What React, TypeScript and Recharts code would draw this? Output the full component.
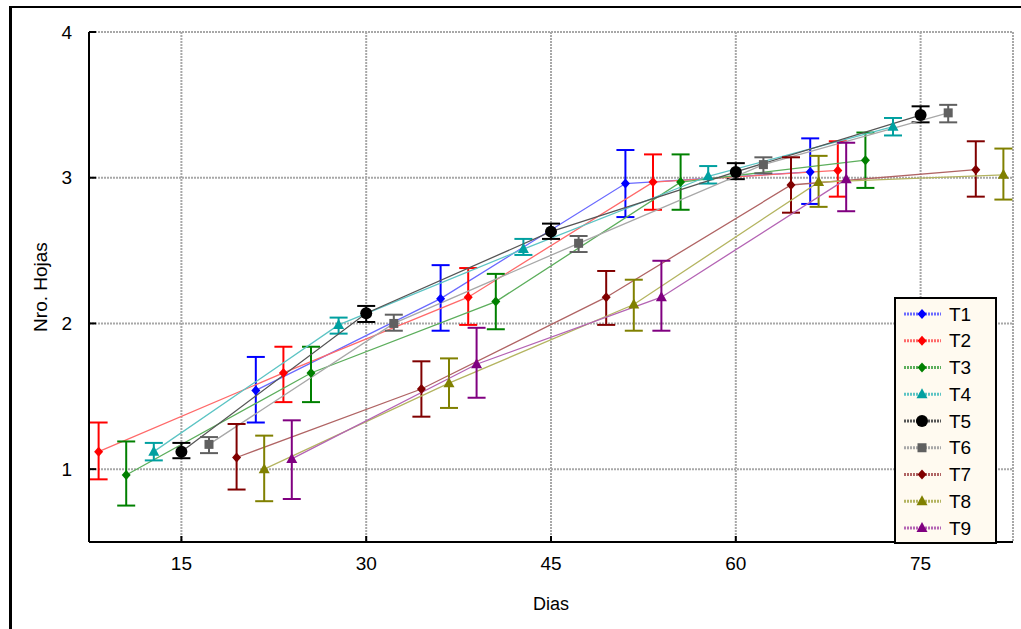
import React from 'react';
import { LineChart, Line, XAxis, YAxis, CartesianGrid, ErrorBar, Label } from 'recharts';

// sampling days and the per-treatment horizontal dodge (in days)
const days = [15, 30, 45, 60, 75];
const dodge = 2.24;

const xTicks = [15, 30, 45, 60, 75];
const yTicks = [1, 2, 3, 4];
const rightTicks = [1, 2, 3, 4, 5, 6, 7];

// mean number of leaves and error bar limits, per treatment (null = not shown)
const t1Mean = [null, 1.54, 2.17, 2.96, 3.04];
const t1Low = [null, 1.32, 1.95, 2.73, 2.82];
const t1High = [null, 1.77, 2.4, 3.19, 3.27];

const t2Mean = [1.12, 1.66, 2.18, 2.97, 3.05];
const t2Low = [0.93, 1.46, 1.99, 2.78, 2.87];
const t2High = [1.32, 1.84, 2.38, 3.16, 3.25];

const t3Mean = [0.96, 1.66, 2.15, 2.97, 3.12];
const t3Low = [0.75, 1.46, 1.96, 2.78, 2.93];
const t3High = [1.19, 1.84, 2.34, 3.16, 3.31];

const t4Mean = [1.12, 1.99, 2.51, 3.01, 3.35];
const t4Low = [1.06, 1.93, 2.47, 2.96, 3.29];
const t4High = [1.18, 2.04, 2.58, 3.08, 3.41];

const t5Mean = [1.12, 2.07, 2.63, 3.04, 3.43];
const t5Low = [1.075, 2.01, 2.58, 2.99, 3.38];
const t5High = [1.18, 2.12, 2.685, 3.1, 3.49];

const t6Mean = [1.17, 2.0, 2.55, 3.09, 3.445];
const t6Low = [1.11, 1.95, 2.49, 3.03, 3.38];
const t6High = [1.22, 2.06, 2.6, 3.14, 3.5];

const t7Mean = [1.08, 1.55, 2.18, 2.95, 3.055];
const t7Low = [0.86, 1.36, 1.99, 2.76, 2.87];
const t7High = [1.31, 1.74, 2.36, 3.14, 3.25];

const t8Mean = [1.0, 1.59, 2.13, 2.97, 3.02];
const t8Low = [0.78, 1.42, 1.95, 2.8, 2.85];
const t8High = [1.23, 1.76, 2.3, 3.15, 3.2];

const t9Mean = [1.07, 1.72, 2.18, 2.99, null];
const t9Low = [0.795, 1.49, 1.95, 2.77, null];
const t9High = [1.335, 1.97, 2.43, 3.24, null];

type Shape = 'diamond' | 'triangle' | 'circle' | 'square';

const series: { name: string; mean: (number | null)[]; low: (number | null)[]; high: (number | null)[]; color: string; line: string; shape: Shape }[] = [
  { name: 'T1', mean: t1Mean, low: t1Low, high: t1High, color: '#0000ff', line: '#6a6aff', shape: 'diamond' },
  { name: 'T2', mean: t2Mean, low: t2Low, high: t2High, color: '#ff0000', line: '#ff6a6a', shape: 'diamond' },
  { name: 'T3', mean: t3Mean, low: t3Low, high: t3High, color: '#008000', line: '#5cae5c', shape: 'diamond' },
  { name: 'T4', mean: t4Mean, low: t4Low, high: t4High, color: '#00a0a0', line: '#5cc4c4', shape: 'triangle' },
  { name: 'T5', mean: t5Mean, low: t5Low, high: t5High, color: '#000000', line: '#555555', shape: 'circle' },
  { name: 'T6', mean: t6Mean, low: t6Low, high: t6High, color: '#606060', line: '#a8a8a8', shape: 'square' },
  { name: 'T7', mean: t7Mean, low: t7Low, high: t7High, color: '#800000', line: '#b06464', shape: 'diamond' },
  { name: 'T8', mean: t8Mean, low: t8Low, high: t8High, color: '#808000', line: '#b4b460', shape: 'triangle' },
  { name: 'T9', mean: t9Mean, low: t9Low, high: t9High, color: '#800080', line: '#b464b4', shape: 'triangle' },
];

const font = '"Liberation Sans", Arial, sans-serif';

const Marker = ({ cx, cy, shape, color }: { cx: number; cy: number; shape: Shape; color: string }) => {
  if (shape === 'diamond')
    return <polygon points={`${cx},${cy - 5} ${cx + 4.5},${cy} ${cx},${cy + 5} ${cx - 4.5},${cy}`} fill={color} />;
  if (shape === 'triangle')
    return <polygon points={`${cx},${cy - 6} ${cx + 5.5},${cy + 4} ${cx - 5.5},${cy + 4}`} fill={color} />;
  if (shape === 'circle') return <circle cx={cx} cy={cy} r={6} fill={color} />;
  return <rect x={cx - 4.5} y={cy - 4.5} width={9} height={9} fill={color} />;
};

const buildData = (s: (typeof series)[number], i: number) =>
  days
    .map((d, k) => ({
      x: d + (i - 4) * dodge,
      y: s.mean[k],
      err: s.mean[k] == null ? null : [(s.mean[k] as number) - (s.low[k] as number), (s.high[k] as number) - (s.mean[k] as number)],
    }))
    .filter((p) => p.y != null);

const LegendBox = () => (
  <div
    style={{
      position: 'absolute',
      left: 894,
      top: 297,
      width: 99,
      height: 243,
      border: '2px solid #000',
      background: '#fffaf0',
    }}
  >
    <svg width={99} height={243}>
      {series.map((s, i) => {
        const cy = 15 + i * 26.75;
        return (
          <g key={s.name}>
            <line x1={8} x2={45} y1={cy} y2={cy} stroke={s.line} strokeWidth={3} strokeDasharray="2 1" />
            <Marker cx={26} cy={cy} shape={s.shape} color={s.color} />
            <text x={53} y={cy} dominantBaseline="central" fontSize={19} fill="#000" fontFamily={font}>
              {s.name}
            </text>
          </g>
        );
      })}
    </svg>
  </div>
);

const App = () => {
  return (
    <div style={{ position: 'absolute', left: 0, top: 0, width: 1021, height: 629, overflow: 'hidden', background: '#fff', fontFamily: font }}>
      <svg width={1021} height={629} style={{ position: 'absolute', left: 0, top: 0 }}>
        <line x1={10.5} y1={6} x2={10.5} y2={629} stroke="#000" strokeWidth={3} />
        <line x1={9} y1={7} x2={1021} y2={7} stroke="#000" strokeWidth={2} />
      </svg>
      <LineChart width={1021} height={629} margin={{ top: 32, right: 8, bottom: 17, left: 29 }}>
        <CartesianGrid stroke="#a8a8a8" strokeWidth={2} strokeDasharray="2 1" />
        <XAxis
          type="number"
          dataKey="x"
          domain={[7.5, 82.5]}
          ticks={xTicks}
          allowDataOverflow
          height={70}
          axisLine={{ stroke: '#000', strokeWidth: 2 }}
          tickLine={{ stroke: '#000', strokeWidth: 2 }}
          tickSize={-6}
          tickMargin={21}
          tick={{ fill: '#000', fontSize: 19 }}
        >
          <Label value="Dias" position="insideBottom" offset={2} fill="#000" fontSize={18} />
        </XAxis>
        <XAxis
          xAxisId="top"
          orientation="top"
          type="number"
          domain={[7.5, 82.5]}
          ticks={xTicks}
          height={0}
          axisLine={{ stroke: '#000', strokeWidth: 2 }}
          tickLine={{ stroke: '#000', strokeWidth: 2 }}
          tickSize={-4}
          tick={false}
        />
        <YAxis
          type="number"
          domain={[0.5, 4]}
          ticks={yTicks}
          width={60}
          axisLine={{ stroke: '#000', strokeWidth: 2 }}
          tickLine={{ stroke: '#000', strokeWidth: 2 }}
          tickSize={-7}
          tickMargin={24}
          tick={{ fill: '#000', fontSize: 19 }}
        >
          <Label
            content={() => (
              <text x={40} y={287} transform="rotate(-90 40 287)" textAnchor="middle" dominantBaseline="central" fontSize={19} fill="#000">
                Nro. Hojas
              </text>
            )}
          />
        </YAxis>
        <YAxis
          yAxisId="right"
          orientation="right"
          type="number"
          domain={[0, 8]}
          ticks={rightTicks}
          width={0}
          axisLine={{ stroke: '#000', strokeWidth: 2 }}
          tickLine={{ stroke: '#000', strokeWidth: 2 }}
          tickSize={-6}
          tick={false}
        />
        {series.map((s, i) => (
          <Line
            key={s.name}
            data={buildData(s, i)}
            dataKey="y"
            name={s.name}
            stroke={s.line}
            strokeWidth={1.3}
            isAnimationActive={false}
            activeDot={false}
            dot={(p: any) => (
              <g key={`${s.name}-${p.index}`}>
                <Marker cx={p.cx} cy={p.cy} shape={s.shape} color={s.color} />
              </g>
            )}
          >
            <ErrorBar dataKey="err" direction="y" width={9} strokeWidth={2} stroke={s.color} isAnimationActive={false} />
          </Line>
        ))}
      </LineChart>
      <LegendBox />
    </div>
  );
};

export default App;
